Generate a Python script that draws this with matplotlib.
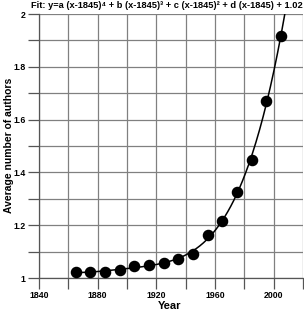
import numpy as np
import matplotlib
matplotlib.use("Agg")
import matplotlib.pyplot as plt

plt.rcParams['font.family'] = ['Liberation Sans', 'DejaVu Sans']

years = [1865, 1875, 1885, 1895, 1905, 1915, 1925, 1935, 1945, 1955,
         1965, 1975, 1985, 1995, 2005]
avg_authors = [1.022, 1.022, 1.024, 1.031, 1.045, 1.050, 1.055, 1.073, 1.090, 1.162,
               1.217, 1.326, 1.448, 1.669, 1.918]
x_ticks = [1840, 1880, 1920, 1960, 2000]
y_ticks = [1, 1.2, 1.4, 1.6, 1.8, 2]
title = "Fit: y=a (x-1845)\u2074 + b (x-1845)\u00b3 + c (x-1845)\u00b2 + d (x-1845) + 1.02"

fig = plt.figure(figsize=(3.04, 3.12), dpi=100)
ax = fig.add_axes([39/304, 34/312, 264/304, 264/312])

xa = np.array(years, dtype=float) - 1845
coef = np.polyfit(xa, np.array(avg_authors), 4)
xs = np.linspace(years[0], 2012, 300)
ax.plot(xs, np.polyval(coef, xs - 1845), color='black', lw=1.1, zorder=3)
ax.plot(years, avg_authors, 'o', color='black', ms=7.3, zorder=4)

ax.set_xlim(1840, 2020)
ax.set_ylim(1, 2)
ax.set_xticks(np.arange(1840, 2021, 20), minor=True)
ax.set_xticks(x_ticks)
ax.set_xticklabels([str(v) for v in x_ticks])
ax.set_yticks(np.arange(1, 2.001, 0.1), minor=True)
ax.set_yticks(y_ticks)
ax.set_yticklabels(['1', '1.2', '1.4', '1.6', '1.8', '2'])
ax.grid(True, which='both', color='#808080', lw=0.9)
ax.set_axisbelow(True)
ax.tick_params(which='both', direction='out', length=8, width=0.9, color='#555555',
               labelsize=6.3, pad=1.5)
for lab in ax.get_xticklabels() + ax.get_yticklabels():
    lab.set_fontweight('bold')
for s in ['top', 'right']:
    ax.spines[s].set_visible(False)
for s in ['left', 'bottom']:
    ax.spines[s].set_color('#555555')
    ax.spines[s].set_linewidth(0.9)

fig.text(170/304, 1 - 306/312, 'Year', fontsize=8, fontweight='bold',
         ha='center', va='center')
fig.text(9/304, 1 - 145/312, 'Average number of authors', fontsize=7.5,
         fontweight='bold', ha='center', va='center', rotation=90)
fig.text(31/304, 1 - 5/312, title, fontsize=6.7, fontweight='bold', ha='left', va='center')

fig.savefig('out.png', dpi=100)
